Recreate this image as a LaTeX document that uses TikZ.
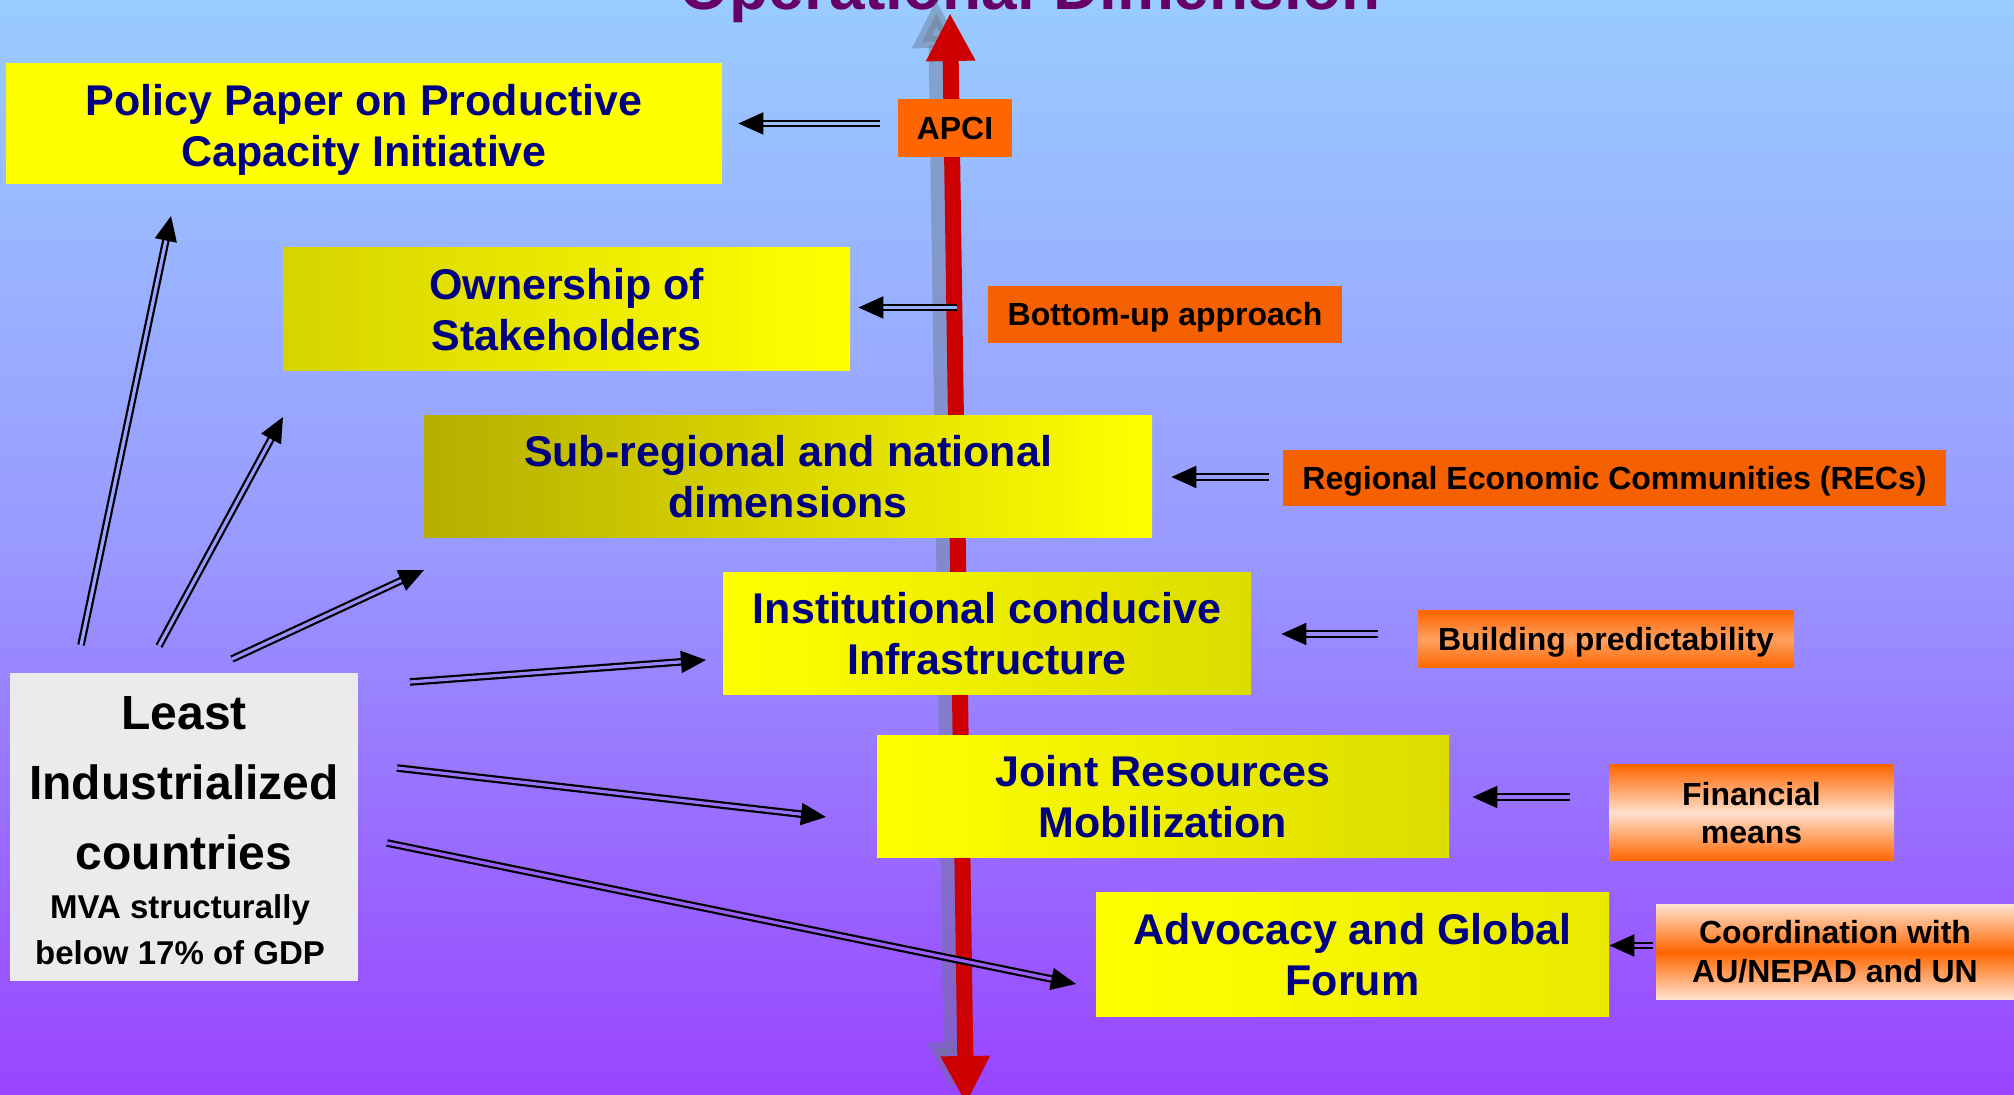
\documentclass[tikz,border=0pt]{standalone}
\usepackage{fontspec}
\setmainfont{Liberation Sans}
\usetikzlibrary{arrows.meta,calc}
\definecolor{bgTop}{HTML}{99CCFF}
\definecolor{bgMid}{HTML}{9999FF}
\definecolor{bgBot}{HTML}{9944FF}
\definecolor{navy}{RGB}{0,0,128}
\definecolor{titlecol}{HTML}{660066}
\definecolor{axred}{HTML}{CC0000}
\definecolor{shadowgray}{HTML}{6A7890}
\definecolor{yel}{HTML}{FFFF00}
\definecolor{yelD}{HTML}{DCDC00}
\definecolor{olive}{HTML}{B5AE00}
\definecolor{olive2}{HTML}{D6D400}
\definecolor{org}{HTML}{FF6600}
\definecolor{orgD}{HTML}{F56000}
\definecolor{orgL}{HTML}{FFA060}
\definecolor{peach}{HTML}{FFE0CC}
\definecolor{licgray}{HTML}{EBEBEB}
\begin{document}
\begin{tikzpicture}[x=0.5pt,y=-0.5pt,
  box/.style={inner sep=0pt, align=center, text=navy, font=\bfseries\fontsize{21.5}{25.5}\selectfont},
  lbl/.style={inner sep=0pt, align=center, text=black, font=\bfseries\fontsize{16}{19.3}\selectfont},
  lblone/.style={lbl, text height=11.5pt, text depth=0pt},
  darr/.style={draw=black, line width=1.1pt, double=#1, double distance=1.6pt, -{Triangle[length=12.5pt,width=11pt]}},
  axis/.style={draw=axred, line width=8pt, {Triangle[length=24pt,width=23pt]}-{Triangle[length=24pt,width=23pt]}},
  axshadow/.style={draw=shadowgray, opacity=0.45, line width=8pt, {Triangle[length=24pt,width=23pt]}-{Triangle[length=24pt,width=23pt]}}
]
\useasboundingbox (0,0) rectangle (2014,1095);
\clip (0,0) rectangle (2014,1095);
\shade[top color=bgTop, bottom color=bgBot, middle color=bgMid] (0,0) rectangle (2014,1095);

% title (cut by the top edge)
\node[anchor=base, text=titlecol, font=\bfseries\fontsize{32}{38}\selectfont] (title) at (1030,10) {Operational Dimension};

% vertical axis
\coordinate (axt) at (950,13);
\coordinate (axb) at (966,1104);
\coordinate (sht) at (936,0);
\coordinate (shb) at (952,1090);
\draw[axshadow] (sht) -- (shb);
\draw[axis] (axt) -- (axb);

% main boxes
\node[fill=yel, inner sep=0pt, minimum width=358pt, minimum height=60.5pt] (policy) at (364,123.5) {};
\node[box] (policytext) at (364,130) {Policy Paper on Productive\\Capacity Initiative};
\node[box, left color=olive2, right color=yel, minimum width=283.5pt, minimum height=61.5pt] (own) at (566.5,309.5) {Ownership of\\Stakeholders};
\node[box, left color=olive, right color=yel, minimum width=364pt, minimum height=61pt] (sub) at (788,477) {Sub-regional and national\\dimensions};
\node[box, left color=yel, right color=yelD, minimum width=264pt, minimum height=61pt] (inst) at (987,634) {Institutional conducive\\Infrastructure};
\node[box, left color=yel, right color=yelD, minimum width=286pt, minimum height=61pt] (joint) at (1163,797) {Joint Resources\\Mobilization};
\node[box, left color=yel, right color=yelD!60!yel, minimum width=256.5pt, minimum height=61.5pt] (adv) at (1352.5,954.5) {Advocacy and Global\\Forum};

% least industrialized countries
\node[fill=licgray, inner sep=0pt, minimum width=174pt, minimum height=154pt] (lic) at (184,827) {};
\node[inner sep=0pt, align=center, font=\bfseries\fontsize{24}{35}\selectfont] (lictitle) at (184,783) {Least\\Industrialized\\countries};
\node[inner sep=0pt, align=center, font=\bfseries\fontsize{16.5}{23}\selectfont] (licsub) at (180,930) {MVA structurally\\below 17\% of GDP};

% labels
\node[lblone, fill=org, minimum width=57pt, minimum height=29pt] (apci) at (955,128) {APCI};
\node[lblone, fill=orgD, minimum width=177pt, minimum height=28.5pt] (bu) at (1165,314.5) {Bottom-up approach};
\node[lblone, fill=orgD, minimum width=331.5pt, minimum height=28pt] (recs) at (1614.5,478) {Regional Economic Communities (RECs)};
\node[lblone, top color=org, bottom color=org, middle color=orgL, minimum width=188pt, minimum height=28.5pt] (build) at (1606,639.5) {Building predictability};
\node[lbl, top color=org, bottom color=org, middle color=peach, minimum width=142.5pt, minimum height=48pt] (fin) at (1751.5,813) {Financial\\means};
\node[lbl, top color=peach, bottom color=peach, middle color=org, minimum width=179pt, minimum height=47pt] (coord) at (1835,952) {Coordination with\\AU/NEPAD and UN};

% horizontal double arrows
\draw[darr=bgMid!22!bgTop] ($(apci.west|-policy.east)+(-18,0)$) -- ($(policy.east)+(16,0)$);
\draw[darr=bgMid!56!bgTop] ($(bu.west|-own.east)+(-31,-2)$) -- ($(own.east)+(8,-2)$);
\draw[darr=bgMid!88!bgTop] ($(recs.west|-sub.east)+(-14,0)$) -- ($(sub.east)+(19,0)$);
\draw[darr=bgBot!16!bgMid] ($(build.west|-inst.east)+(-40,0)$) -- ($(inst.east)+(30,0)$);
\draw[darr=bgBot!45!bgMid] ($(fin.west|-joint.east)+(-39,0)$) -- ($(joint.east)+(23,0)$);
\draw[darr=bgBot!73!bgMid] ($(coord.west|-adv.east)+(-3,-9)$) -- ($(adv.east)+(0,-9)$);

% diagonal double arrows from the least industrialized countries
\coordinate (s1) at (81,645);  \coordinate (e1) at (171,216);
\coordinate (s2) at (159,646); \coordinate (e2) at (283,417);
\coordinate (s3) at (232,659); \coordinate (e3) at (424,570);
\coordinate (s4) at (410,682); \coordinate (e4) at (706,660);
\coordinate (s5) at (397,768); \coordinate (e5) at (826,817);
\coordinate (s6) at (387,843); \coordinate (e6) at (1076,984);
\draw[darr=bgMid!79!bgTop] (s1) -- (e1);
\draw[darr=bgMid] (s2) -- (e2);
\draw[darr=bgBot!12!bgMid] (s3) -- (e3);
\draw[darr=bgBot!23!bgMid] (s4) -- (e4);
\draw[darr=bgBot!45!bgMid] (s5) -- (e5);
\draw[darr=bgBot!67!bgMid] (s6) -- (e6);
\end{tikzpicture}
\end{document}
